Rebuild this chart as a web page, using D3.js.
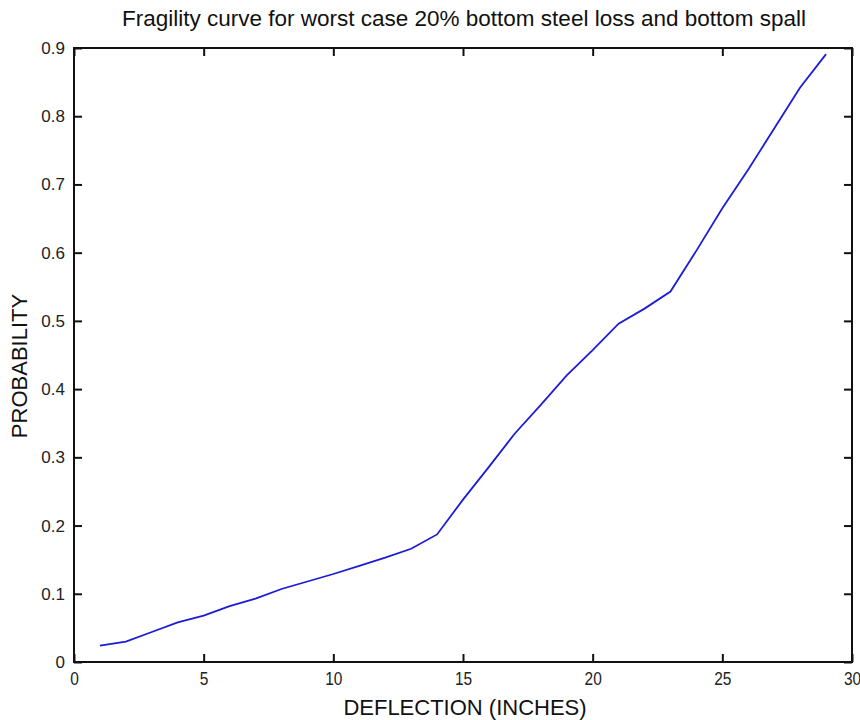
<!DOCTYPE html>
<html><head><meta charset="utf-8">
<script src="https://cdn.jsdelivr.net/npm/d3@7"></script>
<style>body{margin:0;background:#fff}svg{display:block}</style>
</head><body>
<svg id="c" width="860" height="720"></svg>
<script>
const deflection = [1,2,3,4,5,6,7,8,9,10,11,12,13,14,15,16,17,18,19,20,21,22,23,24,25,26,27,28,29];
const probability = [0.024,0.030,0.044,0.058,0.068,0.082,0.093,0.107,0.118,0.129,0.141,0.153,0.166,0.187,0.238,0.286,0.335,0.377,0.420,0.457,0.496,0.518,0.543,0.603,0.665,0.722,0.782,0.842,0.891];
const xTicks = [0,5,10,15,20,25,30];
const yTicks = [0,0.1,0.2,0.3,0.4,0.5,0.6,0.7,0.8,0.9];
const titleText = "Fragility curve for worst case 20% bottom steel loss and bottom spall";
const xLabel = "DEFLECTION (INCHES)";
const yLabel = "PROBABILITY";

const m = {l:74, r:852, t:48, b:662};
const svg = d3.select("#c");
const x = d3.scaleLinear().domain([0,30]).range([m.l,m.r]);
const y = d3.scaleLinear().domain([0,0.9]).range([m.b,m.t]);
const font = "Liberation Sans, Arial, sans-serif";

svg.append("text").attr("x",464).attr("y",26).attr("text-anchor","middle")
  .attr("font-family",font).attr("font-size",22.5).attr("fill","#111").text(titleText);

const tl = 8;
const gx = svg.append("g").attr("transform",`translate(0,${m.b})`)
  .call(d3.axisBottom(x).tickValues(xTicks).tickSizeInner(-tl).tickSizeOuter(0).tickPadding(10).tickFormat(d3.format("d")));
const gxt = svg.append("g").attr("transform",`translate(0,${m.t})`)
  .call(d3.axisTop(x).tickValues(xTicks).tickSizeInner(-tl).tickSizeOuter(0).tickFormat(""));
const gy = svg.append("g").attr("transform",`translate(${m.l},0)`)
  .call(d3.axisLeft(y).tickValues(yTicks).tickSizeInner(-tl).tickSizeOuter(0).tickPadding(9).tickFormat(d=>d===0?"0":d3.format(".1f")(d)));
const gyr = svg.append("g").attr("transform",`translate(${m.r},0)`)
  .call(d3.axisRight(y).tickValues(yTicks).tickSizeInner(-tl).tickSizeOuter(0).tickFormat(""));
[gx,gxt,gy,gyr].forEach(g=>{
  g.select(".domain").remove();
  g.selectAll(".tick line").attr("stroke","#111").attr("stroke-width",2);
  g.selectAll("text").attr("font-family",font).attr("font-size",17).attr("fill","#222");
});
gx.selectAll("text").attr("font-size",18).attr("dy","0.71em").attr("transform","scale(0.86,1)");

svg.append("rect").attr("x",m.l).attr("y",m.t).attr("width",m.r-m.l).attr("height",m.b-m.t)
  .attr("fill","none").attr("stroke","#111").attr("stroke-width",2);

const line = d3.line().x((d,i)=>x(deflection[i])).y(d=>y(d));
svg.append("path").datum(probability).attr("d",line).attr("fill","none")
  .attr("stroke","#1c1cd8").attr("stroke-width",1.8);

svg.append("text").attr("x",465).attr("y",715).attr("text-anchor","middle")
  .attr("font-family",font).attr("font-size",22).attr("fill","#111").text(xLabel);
svg.append("text").attr("transform","translate(27,366) rotate(-90)").attr("text-anchor","middle")
  .attr("font-family",font).attr("font-size",22).attr("fill","#111").text(yLabel);
</script>
</body></html>
